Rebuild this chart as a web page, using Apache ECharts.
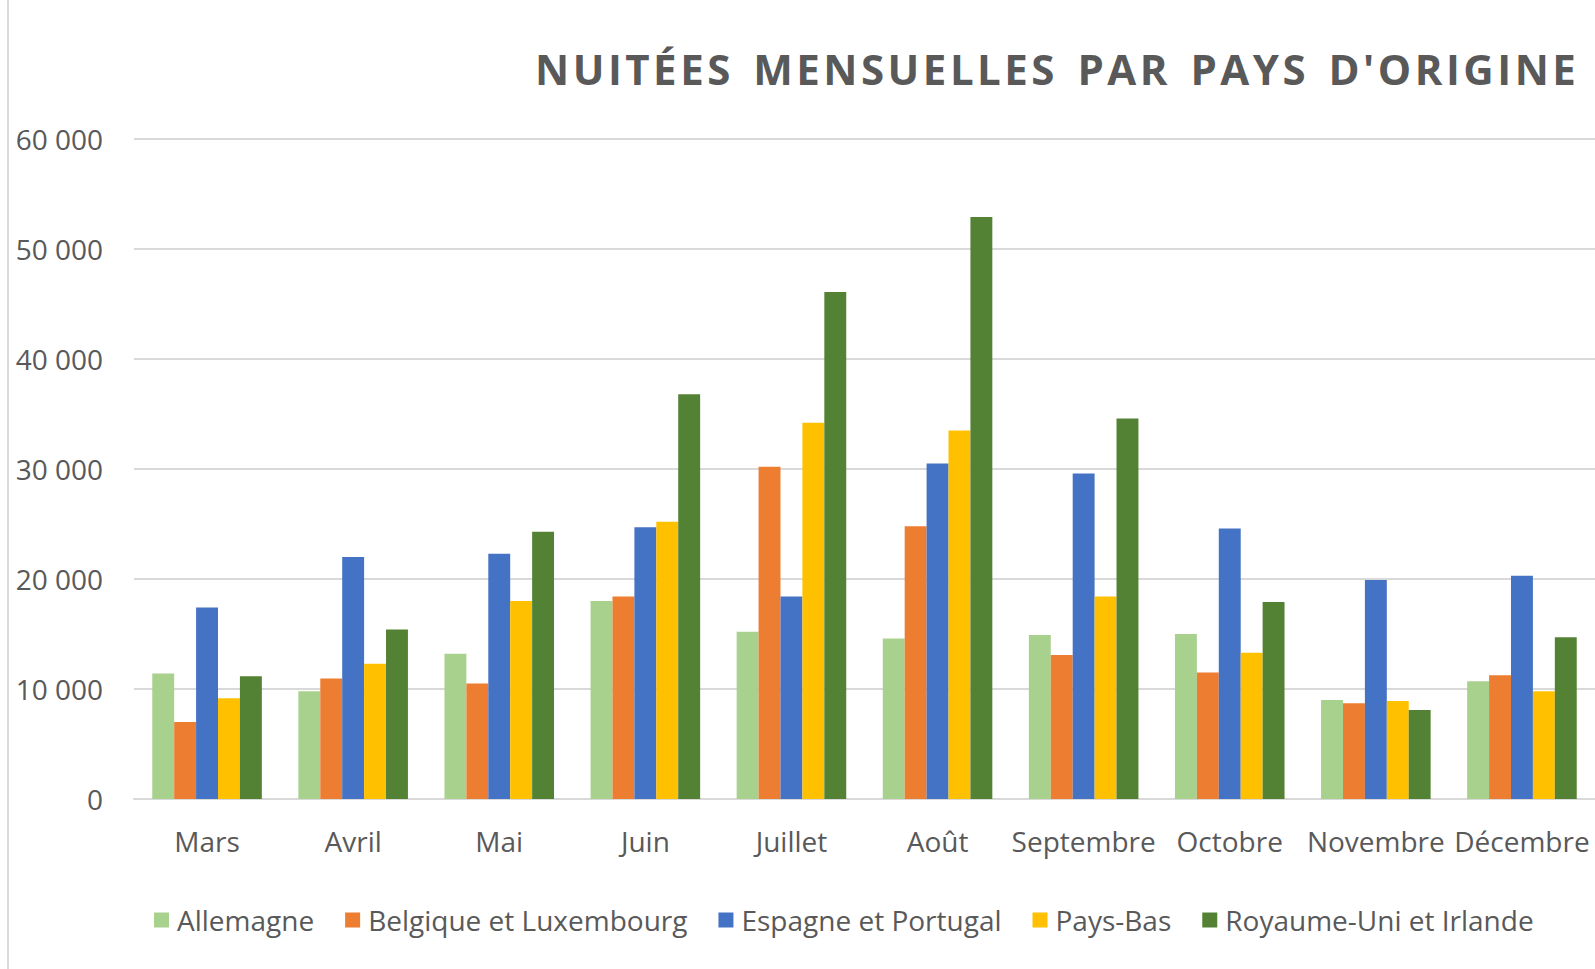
<!DOCTYPE html>
<html>
<head>
<meta charset="utf-8">
<script src="https://cdn.jsdelivr.net/npm/echarts@6/dist/echarts.min.js"></script>
<style>
  html, body { margin: 0; padding: 0; background: #fff; }
  #chart { width: 1595px; height: 969px; }
  /* titre espacé comme dans Excel */
  #chart svg text[style*="bold"] { letter-spacing: 3.5px; word-spacing: 5px; }
</style>
</head>
<body>
<div id="chart"></div>
<script>
// mois affichés
var months = ["Mars", "Avril", "Mai", "Juin", "Juillet", "Août", "Septembre", "Octobre", "Novembre", "Décembre"];
// nuitées par pays d'origine
var allemagne = [11400, 9800, 13200, 18000, 15200, 14600, 14900, 15000, 9000, 10700];
var belgiqueLux = [7000, 10950, 10500, 18400, 30200, 24800, 13100, 11500, 8700, 11250];
var espagnePortugal = [17400, 22000, 22300, 24700, 18400, 30500, 29600, 24600, 19900, 20300];
var paysBas = [9150, 12300, 18000, 25200, 34200, 33500, 18400, 13300, 8900, 9800];
var royaumeUni = [11150, 15400, 24300, 36800, 46100, 52900, 34600, 17900, 8100, 14700];
var yTicks = [0, 10000, 20000, 30000, 40000, 50000, 60000];

var myColor = ["#A9D18E", "#ED7D31", "#4472C4", "#FFC000", "#548235"];
var seriesNames = ["Allemagne", "Belgique et Luxembourg", "Espagne et Portugal", "Pays-Bas", "Royaume-Uni et Irlande"];
var seriesData = [allemagne, belgiqueLux, espagnePortugal, paysBas, royaumeUni];
var font = "'Open Sans', 'Noto Sans', sans-serif";

var chart = echarts.init(document.getElementById("chart"), null, { renderer: "svg" });

var series = seriesNames.map(function (name, i) {
  return {
    name: name,
    type: "bar",
    data: seriesData[i],
    barGap: "0%",
    barCategoryGap: "25%",
    itemStyle: { color: myColor[i] },
  };
});

chart.setOption({
  animation: false,
  color: myColor,
  title: {
    text: "NUITÉES MENSUELLES PAR PAYS D'ORIGINE",
    left: 530,
    top: 42,
    textStyle: {
      fontFamily: font,
      fontSize: 42,
      fontWeight: "bold",
      color: "#595959",
    },
  },
  // bordure gauche du cadre
  graphic: [
    {
      type: "line",
      shape: { x1: 8, y1: 0, x2: 8, y2: 969 },
      style: { stroke: "#d9d9d9", lineWidth: 2 },
    },
  ],
  grid: {
    left: 134,
    right: 0,
    top: 139,
    bottom: 170,
    containLabel: false,
  },
  legend: {
    left: 149,
    top: 901,
    icon: "rect",
    itemWidth: 15,
    itemHeight: 15,
    itemGap: 31,
    textStyle: {
      fontFamily: font,
      fontSize: 28,
      color: "#595959",
      padding: [0, 0, 0, 3],
    },
    data: seriesNames,
  },
  xAxis: {
    type: "category",
    data: months,
    axisLine: { lineStyle: { color: "#d9d9d9", width: 2 } },
    axisTick: { show: false },
    axisLabel: {
      fontFamily: font,
      fontSize: 28,
      color: "#595959",
      margin: 28,
      interval: 0,
    },
  },
  yAxis: {
    type: "value",
    min: yTicks[0],
    max: yTicks[yTicks.length - 1],
    interval: 10000,
    axisLine: { show: false },
    axisTick: { show: false },
    splitLine: { lineStyle: { color: "#d9d9d9", width: 2 } },
    axisLabel: {
      fontFamily: font,
      fontSize: 28,
      color: "#595959",
      margin: 31,
      formatter: function (v) {
        return String(v).replace(/\B(?=(\d{3})+(?!\d))/g, " ");
      },
    },
  },
  series: series,
});
</script>
</body>
</html>
